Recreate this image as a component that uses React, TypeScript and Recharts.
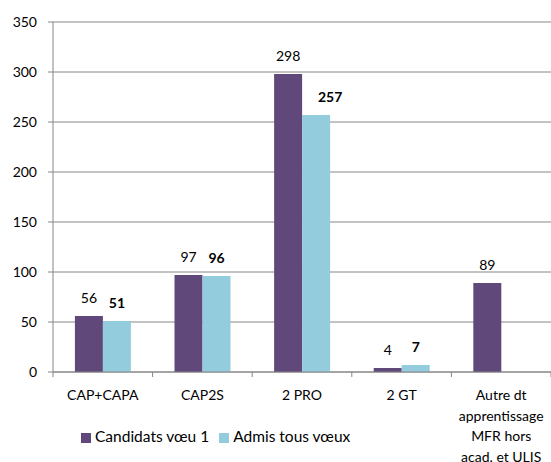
import { BarChart, Bar, XAxis, YAxis, CartesianGrid, LabelList, Legend } from "recharts";

// categories and values
const categories = [
  "CAP+CAPA",
  "CAP2S",
  "2 PRO",
  "2 GT",
  "Autre dt\napprentissage\nMFR hors\nacad. et ULIS",
];
const candidatsVoeu1 = [56, 97, 298, 4, 89];
const admisTousVoeux: (number | null)[] = [51, 96, 257, 7, null];
const seriesNames = ["Candidats vœu 1", "Admis tous vœux"];
const yTicks = [0, 50, 100, 150, 200, 250, 300, 350];

const data = categories.map((name, i) => ({
  name,
  candidats: candidatsVoeu1[i],
  admis: admisTousVoeux[i],
}));

const W = 551;
const H = 462;
const LEFT = 53;
const TOP = 22;
const X_AXIS_H = 90;
const AXIS_Y = H - X_AXIS_H;
const BAND = (W - LEFT) / categories.length;
const GRID = "#868686";
const FONT = "Lato, 'Liberation Sans', sans-serif";

const CategoryTick = ({ x, payload, index }: any) => {
  const lines = String(payload.value).split("\n");
  const half = BAND / 2;
  return (
    <g>
      <line x1={x - half} x2={x - half} y1={AXIS_Y} y2={AXIS_Y + 5} stroke={GRID} />
      {index === categories.length - 1 && (
        <line x1={x + half} x2={x + half} y1={AXIS_Y} y2={AXIS_Y + 5} stroke={GRID} />
      )}
      <text x={x} y={AXIS_Y + 28} textAnchor="middle" fontSize={14} fill="#000" fontFamily={FONT}>
        {lines.map((l, i) => (
          <tspan key={i} x={x} dy={i === 0 ? 0 : 20.7}>
            {l}
          </tspan>
        ))}
      </text>
    </g>
  );
};

const makeLabel = (bold: boolean) => (props: any) => {
  const { x, y, width, value, index } = props;
  if (value == null) return null;
  // push the bold label aside when the neighbouring bar is much taller
  const dx = bold && candidatsVoeu1[index] - value > 20 ? 14 : 0;
  return (
    <text
      x={x + width / 2 + dx}
      y={y - 13}
      textAnchor="middle"
      fontSize={14}
      fontWeight={bold ? 700 : 400}
      fill="#000"
      fontFamily={FONT}
    >
      {value}
    </text>
  );
};

export default function App() {
  return (
    <div style={{ position: "absolute", left: 0, top: 0, width: W, height: H, background: "#fff", fontFamily: FONT }}>
      <BarChart
        width={W}
        height={H}
        data={data}
        margin={{ top: TOP, right: 0, bottom: 0, left: 0 }}
        barCategoryGap="22%"
        barGap={0}
      >
        <CartesianGrid vertical={false} stroke={GRID} />
        <XAxis
          dataKey="name"
          height={X_AXIS_H}
          interval={0}
          tickLine={false}
          axisLine={{ stroke: GRID }}
          tick={<CategoryTick />}
        />
        <YAxis
          width={LEFT}
          domain={[0, 350]}
          ticks={yTicks}
          tickSize={5}
          tickMargin={11}
          axisLine={{ stroke: GRID }}
          tickLine={{ stroke: GRID }}
          tick={{ fontSize: 14, fill: "#000", fontFamily: FONT }}
        />
        <Legend
          layout="horizontal"
          verticalAlign="middle"
          align="center"
          iconType="square"
          iconSize={10}
          itemSorter={(item: any) => seriesNames.indexOf(item.value)}
          wrapperStyle={{ top: 427, left: 81, width: "auto", fontSize: 15.5, fontFamily: FONT }}
          formatter={(v) => <span style={{ color: "#000" }}>{v}</span>}
        />
        <Bar dataKey="candidats" name={seriesNames[0]} fill="#60497a" isAnimationActive={false}>
          <LabelList dataKey="candidats" content={makeLabel(false)} />
        </Bar>
        <Bar dataKey="admis" name={seriesNames[1]} fill="#93cddd" isAnimationActive={false}>
          <LabelList dataKey="admis" content={makeLabel(true)} />
        </Bar>
      </BarChart>
    </div>
  );
}
